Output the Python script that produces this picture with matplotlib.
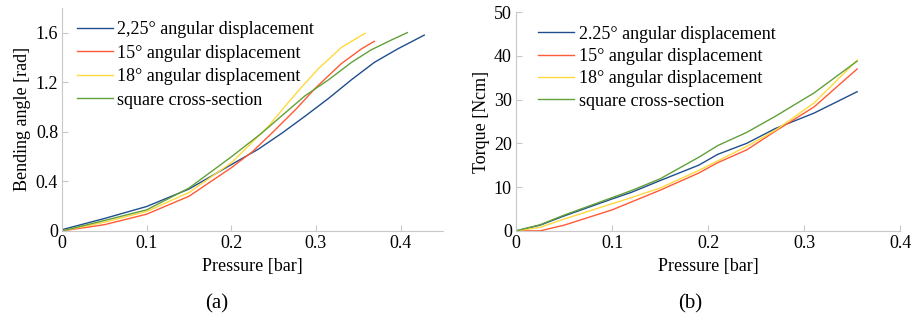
import matplotlib
matplotlib.use("Agg")
import matplotlib.pyplot as plt
from matplotlib import font_manager as fm

FS = 13
serif_path = fm.findfont(fm.FontProperties(family='Liberation Serif'))
fp = fm.FontProperties(fname=serif_path, size=FS)

blue = '#1f4e8c'
red = '#ff5a36'
yellow = '#ffd93d'
green = '#62a03a'

# (a) bending angle vs pressure
a_blue_x = [0, 0.05, 0.1, 0.15, 0.2, 0.232, 0.26, 0.287, 0.315, 0.342, 0.369, 0.397, 0.428]
a_blue_y = [0.01, 0.10, 0.197, 0.338, 0.535, 0.66, 0.79, 0.925, 1.07, 1.22, 1.36, 1.47, 1.58]
a_red_x = [0, 0.05, 0.1, 0.15, 0.2, 0.225, 0.248, 0.276, 0.299, 0.33, 0.354, 0.369]
a_red_y = [0.0, 0.05, 0.135, 0.28, 0.51, 0.64, 0.79, 0.98, 1.15, 1.35, 1.47, 1.53]
a_yel_x = [0, 0.05, 0.1, 0.15, 0.2, 0.244, 0.264, 0.283, 0.303, 0.33, 0.358]
a_yel_y = [0.0, 0.07, 0.157, 0.31, 0.55, 0.846, 1.01, 1.16, 1.31, 1.48, 1.595]
a_grn_x = [0, 0.05, 0.1, 0.15, 0.2, 0.236, 0.264, 0.287, 0.315, 0.342, 0.365, 0.389, 0.408]
a_grn_y = [0.0, 0.084, 0.17, 0.346, 0.598, 0.79, 0.955, 1.09, 1.22, 1.36, 1.46, 1.54, 1.60]

# (b) torque vs pressure
b_x = [0, 0.025, 0.05, 0.1, 0.12, 0.15, 0.19, 0.21, 0.24, 0.27, 0.31, 0.355]
b_blue = [0, 1.3, 3.4, 7.3, 8.8, 11.5, 15.0, 17.5, 20.0, 23.4, 26.9, 31.8]
b_red = [0, 0.0, 1.3, 4.8, 6.6, 9.3, 13.2, 15.6, 18.5, 22.8, 28.3, 37.0]
b_yel = [0, 0.8, 2.7, 6.2, 7.6, 9.8, 13.8, 16.0, 19.3, 23.0, 29.2, 39.0]
b_grn = [0, 1.4, 3.6, 7.6, 9.2, 11.9, 16.8, 19.5, 22.5, 26.2, 31.5, 38.8]

labels_a = ['2,25° angular displacement', '15° angular displacement',
            '18° angular displacement', 'square cross-section']
labels_b = ['2.25° angular displacement', '15° angular displacement',
            '18° angular displacement', 'square cross-section']

fig = plt.figure(figsize=(9.15, 3.27), dpi=100)
ax1 = fig.add_axes([0.068, 0.294, 0.416, 0.682])
ax2 = fig.add_axes([0.564, 0.294, 0.42, 0.669])


def style(ax):
    for s in ['top', 'right']:
        ax.spines[s].set_visible(False)
    for s in ['left', 'bottom']:
        ax.spines[s].set_color('#c8c8c8')
    ax.tick_params(direction='in', color='#c8c8c8', length=4, pad=3)
    for t in ax.get_xticklabels() + ax.get_yticklabels():
        t.set_fontproperties(fp)


lw = 1.0
ax1.plot(a_blue_x, a_blue_y, color=blue, lw=lw, label=labels_a[0])
ax1.plot(a_red_x, a_red_y, color=red, lw=lw, label=labels_a[1])
ax1.plot(a_yel_x, a_yel_y, color=yellow, lw=lw, label=labels_a[2])
ax1.plot(a_grn_x, a_grn_y, color=green, lw=lw, label=labels_a[3])
ax1.set_xlim(0, 0.45)
ax1.set_ylim(0, 1.8)
ax1.set_xticks([0, 0.1, 0.2, 0.3, 0.4])
ax1.set_xticklabels(['0', '0.1', '0.2', '0.3', '0.4'])
ax1.set_yticks([0, 0.4, 0.8, 1.2, 1.6])
ax1.set_yticklabels(['0', '0.4', '0.8', '1.2', '1.6'])
ax1.set_xlabel('Pressure [bar]', fontproperties=fp, labelpad=4)
ax1.set_ylabel('Bending angle [rad]', fontproperties=fp, labelpad=3)
style(ax1)
ax1.legend(loc='upper left', bbox_to_anchor=(0.084, 0.935), bbox_transform=fig.transFigure,
           frameon=False, prop=fp, handlelength=2.0,
           handletextpad=0.25, labelspacing=0.36, borderaxespad=0, borderpad=0)

ax2.plot(b_x, b_blue, color=blue, lw=lw, label=labels_b[0])
ax2.plot(b_x, b_red, color=red, lw=lw, label=labels_b[1])
ax2.plot(b_x, b_yel, color=yellow, lw=lw, label=labels_b[2])
ax2.plot(b_x, b_grn, color=green, lw=lw, label=labels_b[3])
ax2.set_xlim(0, 0.4)
ax2.set_ylim(0, 50)
ax2.set_xticks([0, 0.1, 0.2, 0.3, 0.4])
ax2.set_xticklabels(['0', '0.1', '0.2', '0.3', '0.4'])
ax2.set_yticks([0, 10, 20, 30, 40, 50])
ax2.set_xlabel('Pressure [bar]', fontproperties=fp, labelpad=4)
ax2.set_ylabel('Torque [Ncm]', fontproperties=fp, labelpad=3)
style(ax2)
ax2.legend(loc='upper left', bbox_to_anchor=(0.588, 0.922), bbox_transform=fig.transFigure,
           frameon=False, prop=fp, handlelength=2.0,
           handletextpad=0.25, labelspacing=0.3, borderaxespad=0, borderpad=0)

fp_cap = fm.FontProperties(fname=serif_path, size=15)
fig.text(0.237, 0.07, '(a)', fontproperties=fp_cap, ha='center', va='center')
fig.text(0.754, 0.07, '(b)', fontproperties=fp_cap, ha='center', va='center')

fig.savefig('out.png', dpi=100)
